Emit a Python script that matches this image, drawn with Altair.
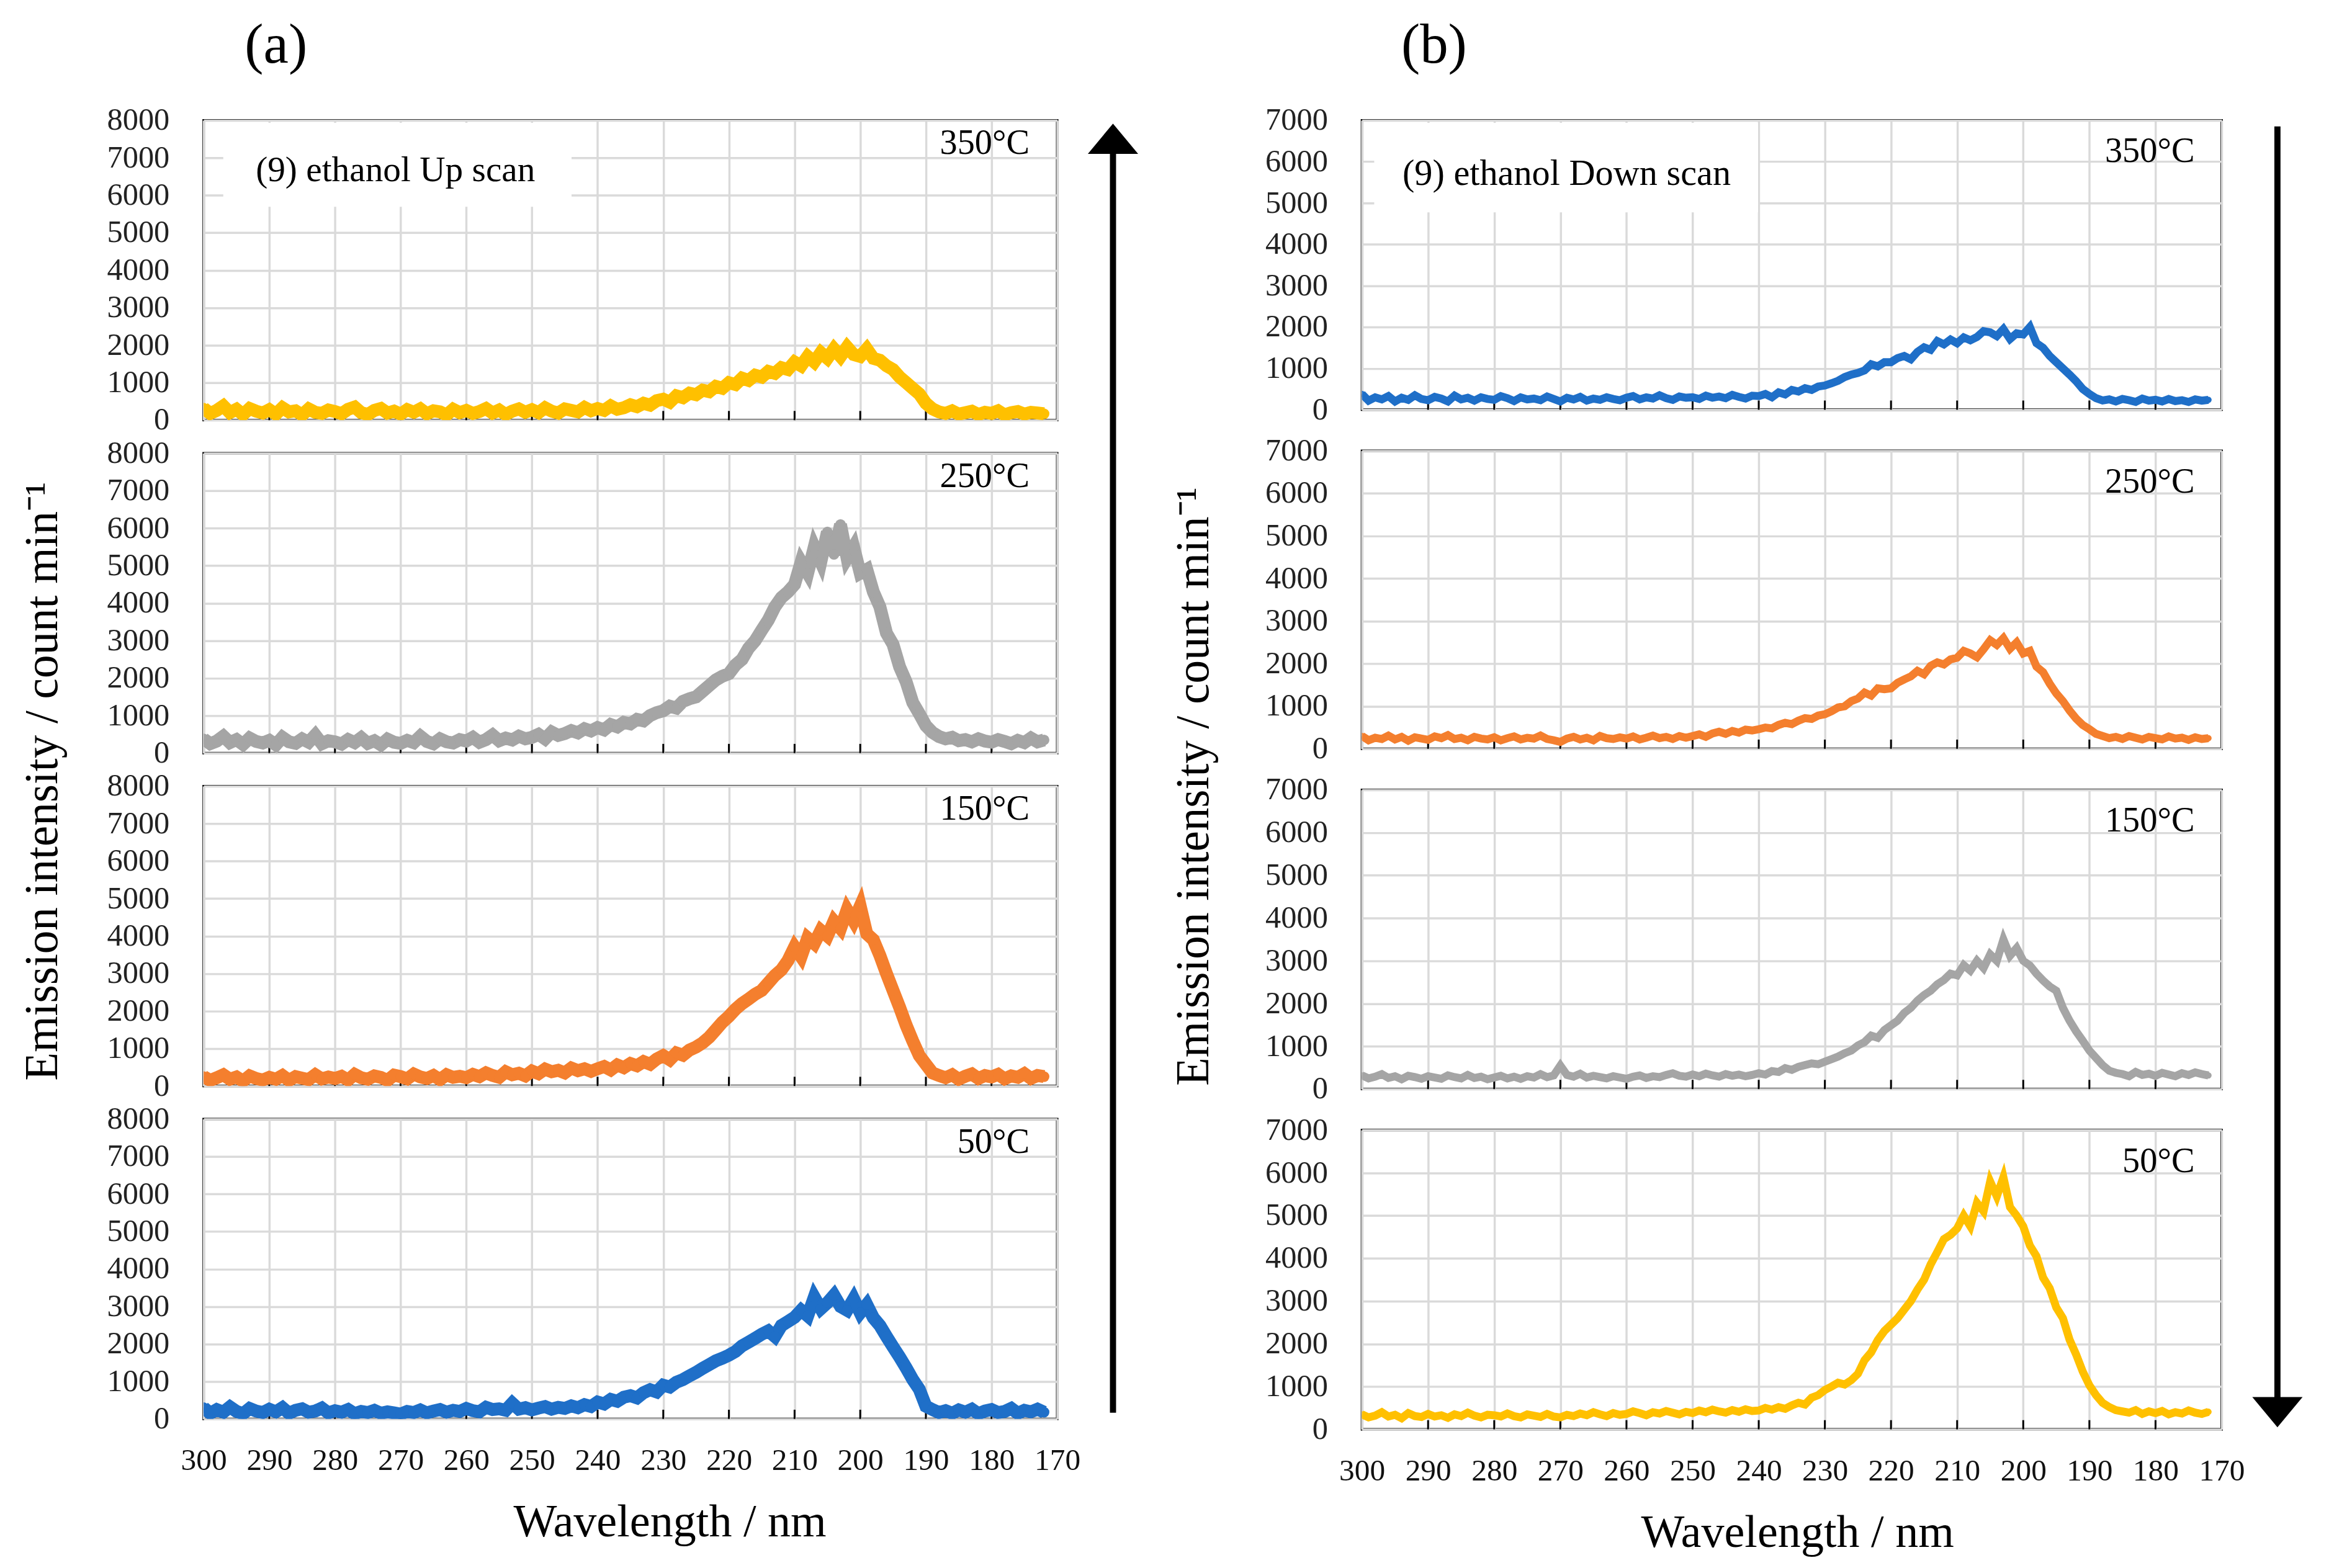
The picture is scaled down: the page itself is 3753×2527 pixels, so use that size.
import altair as alt
import pandas as pd

FONT = "Liberation Serif"

# wavelengths (nm), 300 -> 172, 1 nm step
WL = list(range(300, 171, -1))
XTICKS = list(range(300, 169, -10))
INNER_TICKS = list(range(290, 179, -10))

# ---------------- (a) Up scan ----------------
UP_350 = [320, 180, 260, 380, 200, 290, 150, 310, 240, 190,
          280, 160, 330, 220, 250, 140, 300, 210, 180, 270,
          230, 170, 290, 350, 200, 150, 260, 310, 190, 240,
          160, 280, 210, 300, 170, 250, 220, 140, 290, 200,
          260, 180, 230, 310, 190, 270, 150, 240, 300, 210,
          280, 200, 330, 240, 190, 300, 260, 220, 340, 250,
          310, 260, 380, 290, 330, 410, 360, 450, 400, 520,
          560, 480, 650, 600, 720, 680, 800, 760, 900, 850,
          1000, 950, 1120, 1060, 1200, 1150, 1300, 1250, 1400, 1350,
          1550, 1450, 1700, 1550, 1800, 1650, 1900, 1700, 1950, 1750,
          1700, 1900, 1650, 1600, 1450, 1350, 1150, 1000, 850, 700,
          450, 300, 220, 180, 250, 160, 200, 240, 150, 210,
          180, 250, 140, 200, 230, 160, 210, 190, 170]

UP_250 = [380, 250, 320, 450, 280, 360, 230, 400, 310, 270,
          340, 220, 420, 300, 260, 380, 290, 480, 250, 330,
          300, 240, 360, 280, 410, 260, 330, 220, 370, 290,
          260, 340, 280, 450, 310, 250, 380, 300, 270, 360,
          320, 420, 290, 360, 480, 330, 400, 350, 450, 380,
          420, 500, 380, 560, 470, 520, 600, 540, 650, 590,
          680, 620, 760, 700, 820, 780, 900, 860, 1000, 1080,
          1130, 1250, 1200, 1380, 1450, 1500, 1650, 1800, 1950, 2050,
          2120, 2350, 2500, 2800, 3000, 3280, 3550, 3900, 4150, 4300,
          4500, 5100, 4800, 5500, 5100, 5900, 5300, 6100, 5200, 5500,
          4800, 4900, 4300, 3900, 3200, 2900, 2300, 1900, 1350, 1050,
          730, 550, 440, 380, 420, 330, 360, 300, 380, 320,
          290, 360, 310, 250, 340, 280, 400, 300, 350]

UP_150 = [250, 150, 220, 300, 180, 240, 130, 270, 200, 160,
          230, 180, 280, 150, 250, 210, 170, 300, 190, 240,
          200, 260, 160, 310, 220, 180, 270, 230, 150, 290,
          250, 190, 320, 240, 200, 280, 170, 300, 230, 260,
          220, 310, 250, 350, 280, 230, 380, 300, 340, 270,
          400, 330, 450, 380, 420, 350, 480, 410, 460, 390,
          460, 520, 430, 560, 490, 600, 540, 650, 580, 720,
          810, 700, 880, 820, 960, 1040, 1150, 1300, 1500, 1700,
          1860, 2050, 2200, 2320, 2450, 2550, 2750, 2950, 3100, 3350,
          3710, 3450, 3950, 3800, 4150, 4000, 4400, 4200, 4700, 4400,
          4800, 4060, 3900, 3480, 3000, 2550, 2100, 1620, 1200, 810,
          580, 350, 280, 220, 300, 180, 260, 320, 200, 280,
          240, 310, 190, 270, 230, 330, 200, 280, 250]

UP_50 = [300, 150, 250, 180, 320, 200, 140, 280, 210, 170,
         260, 190, 300, 150, 230, 270, 180, 210, 290, 160,
         220, 180, 250, 140, 200, 170, 230, 150, 190, 160,
         130, 200, 170, 240, 160, 210, 250, 180, 230, 200,
         280, 220, 190, 310, 250, 270, 230, 420, 260, 300,
         240, 290, 330, 260, 310, 280, 350, 300, 380, 330,
         450, 400, 520, 470, 580, 620, 560, 700, 780, 720,
         900, 850, 980, 1050, 1150, 1240, 1350, 1450, 1550, 1620,
         1700, 1800, 1950, 2050, 2150, 2260, 2350, 2200, 2490, 2600,
         2710, 2900, 2750, 3250, 2940, 3100, 3300, 3000, 2900, 3200,
         2830, 3050, 2700, 2490, 2200, 1920, 1650, 1360, 1050, 790,
         340, 250, 170, 220, 150, 240, 180, 260, 140, 210,
         250, 170, 200, 280, 150, 230, 190, 260, 180]

# ---------------- (b) Down scan ----------------
DN_350 = [380, 220, 300, 250, 330, 200, 290, 240, 350, 260,
          230, 310, 270, 200, 340, 250, 290, 220, 300, 260,
          240, 330, 280, 210, 300, 250, 270, 230, 320, 260,
          200, 290, 250, 310, 220, 270, 240, 300, 260, 230,
          290, 330, 250, 300, 270, 350, 280, 240, 320, 290,
          300, 260, 340, 290, 320, 280, 360, 310, 270, 340,
          330, 380, 300, 420, 370, 480, 440, 520, 480, 560,
          585, 640, 700, 790, 850, 890, 950, 1100, 1050, 1150,
          1150, 1250, 1300, 1220, 1400, 1510, 1450, 1660, 1580, 1700,
          1610, 1750, 1680, 1760, 1900, 1870, 1780, 1950, 1710, 1850,
          1820, 2000, 1610, 1500, 1300, 1150, 1000, 850, 690, 500,
          380, 280, 225, 250, 200, 260, 230, 190, 270, 220,
          240, 200, 260, 210, 230, 190, 250, 220, 240]

DN_250 = [300, 200, 260, 230, 310, 220, 280, 190, 270, 240,
          210, 290, 250, 320, 230, 260, 200, 280, 240, 220,
          270, 200, 250, 290, 220, 260, 240, 310, 230, 200,
          160, 240, 280, 220, 260, 200, 300, 250, 230, 270,
          240, 290, 220, 260, 310, 250, 280, 230, 300, 260,
          300, 340, 280, 360, 400, 350, 420, 380, 450, 430,
          460, 500, 480, 560, 610, 580, 660, 720, 700, 780,
          810, 880, 970, 1000, 1120, 1180, 1320, 1250, 1420, 1400,
          1420, 1550, 1630, 1700, 1830, 1750, 1950, 2030, 1980, 2100,
          2140, 2300, 2240, 2150, 2340, 2550, 2440, 2600, 2350, 2500,
          2240, 2300, 1930, 1800, 1530, 1300, 1120, 900, 710, 560,
          460, 350, 300, 250, 280, 230, 300, 260, 220, 280,
          250, 220, 290, 240, 260, 210, 270, 230, 250]

DN_150 = [320, 250, 290, 350, 260, 300, 230, 310, 280, 240,
          300, 270, 240, 320, 280, 250, 330, 260, 290, 230,
          270, 310, 250, 290, 240, 300, 270, 350, 280, 320,
          550, 330, 290, 360, 270, 310, 280, 250, 300, 270,
          240, 290, 320, 260, 300, 280, 330, 370, 310, 290,
          340, 300, 360, 320, 290, 350, 310, 340, 300, 330,
          370, 340, 420, 400, 490, 450, 520, 560, 600, 580,
          640, 700, 760, 840, 900, 1020, 1100, 1250, 1200, 1380,
          1490, 1600, 1780, 1900, 2070, 2200, 2300, 2450, 2550, 2700,
          2660, 2900, 2770, 3000, 2830, 3150, 3000, 3500, 3120, 3300,
          3000, 2890, 2700, 2540, 2400, 2300, 1900, 1600, 1350, 1130,
          900, 730, 560, 430, 380, 350, 300, 400, 330, 360,
          310, 380, 340, 300, 370, 330, 390, 350, 320]

DN_50 = [350, 280, 320, 400, 300, 340, 260, 380, 310, 290,
         360, 300, 330, 270, 350, 310, 390, 320, 280, 340,
         330, 300, 370, 310, 280, 350, 320, 290, 360, 300,
         280, 340, 310, 370, 330, 400, 350, 310, 380, 340,
         360, 420, 380, 330, 400, 370, 430, 390, 350, 410,
         380, 440, 400, 460, 420, 390, 450, 410, 470, 430,
         440, 500, 460, 520, 480, 560, 620, 580, 740, 800,
         920, 1000, 1090, 1050, 1150, 1300, 1620, 1800, 2090, 2300,
         2450, 2600, 2800, 3000, 3270, 3500, 3860, 4150, 4450, 4550,
         4700, 5000, 4750, 5300, 5100, 5800, 5450, 5900, 5200, 5000,
         4750, 4300, 4050, 3550, 3300, 2850, 2600, 2100, 1750, 1350,
         1030, 800, 620, 520, 450, 420, 390, 450, 360, 420,
         380, 430, 350, 400, 370, 440, 390, 360, 410]

TEMPS = ["350°C", "250°C", "150°C", "50°C"]
YELLOW, GRAY, ORANGE, BLUE = "#FFC000", "#A5A5A5", "#F47F2E", "#1F6FC8"
YTITLE = "Emission intensity / count min⁻¹"
XTITLE = "Wavelength / nm"


def panel(vals, color, temp, ymax, w, h, bottom, pt_size, lw, temp_dx, temp_dy,
          title_x, note=None, head=None):
    df = pd.DataFrame({"wl": WL, "v": vals})
    xscale = alt.Scale(domain=[170, 300], reverse=True, nice=False, zero=False)
    xaxis = alt.Axis(values=XTICKS, labels=bottom, ticks=False, domain=False,
                     grid=True, gridColor="#DADADA", gridWidth=3.5, format="d",
                     labelOverlap=False, labelFlush=False, labelBound=False,
                     labelFont=FONT, labelFontSize=50, labelColor="#111",
                     labelPadding=43, titleFont=FONT, titleFontSize=75,
                     titleFontWeight="normal", titleColor="black", titlePadding=39,
                     titleX=title_x)
    yaxis = alt.Axis(values=list(range(0, ymax + 1, 1000)), ticks=False, domain=False,
                     grid=True, gridColor="#DADADA", gridWidth=3.5, format="d",
                     labelOverlap=False, labelFlush=False, labelBound=False,
                     labelFont=FONT, labelFontSize=51, labelColor="#222",
                     labelPadding=56)
    if bottom:
        x = alt.X("wl:Q", scale=xscale, axis=xaxis, title=XTITLE)
    else:
        x = alt.X("wl:Q", scale=xscale, axis=xaxis, title=None)
    y = alt.Y("v:Q", scale=alt.Scale(domain=[0, ymax], nice=False), axis=yaxis, title=None)

    ticks = alt.Chart(pd.DataFrame({"wl": INNER_TICKS})).mark_rule(
        color="black", strokeWidth=3).encode(x=x, y=alt.value(h), y2=alt.value(h - 15))
    line = alt.Chart(df).mark_line(color=color, strokeWidth=lw, clip=True).encode(x=x, y=y)
    pts = alt.Chart(df).mark_circle(color=color, size=pt_size, opacity=1, clip=True).encode(x=x, y=y)
    one = pd.DataFrame({"s": [temp]})
    ttxt = alt.Chart(one).mark_text(align="right", baseline="middle", font=FONT,
                                    fontSize=57, color="black").encode(
        text="s:N", x=alt.value(w - temp_dx), y=alt.value(temp_dy))
    layers = [ticks, line, pts, ttxt]
    if note is not None:
        text, bx1, bx2, by2, tx, ty, fs = note
        nd = pd.DataFrame({"s": [text]})
        box = alt.Chart(nd).mark_rect(color="white").encode(
            x=alt.value(bx1), x2=alt.value(bx2), y=alt.value(4), y2=alt.value(by2))
        ntxt = alt.Chart(nd).mark_text(align="left", baseline="middle", font=FONT,
                                       fontSize=fs, color="black").encode(
            text="s:N", x=alt.value(tx), y=alt.value(ty))
        layers += [box, ntxt]
    ch = alt.layer(*layers).properties(
        width=w, height=h, view=alt.ViewBackground(stroke="black", strokeWidth=4))
    if head is not None:
        label, dx = head
        ch = ch.properties(title=alt.TitleParams(
            label, anchor="start", frame="group", dx=dx, offset=49, font=FONT,
            fontSize=92, fontWeight="normal", color="black"))
    return ch


LW = 1392
LHS = [489, 489, 489, 489]
RW = 1402
RHS = [472, 486, 488, 488]

left_vals = [UP_350, UP_250, UP_150, UP_50]
left_cols = [YELLOW, GRAY, ORANGE, BLUE]
left_panels = []
for i in range(4):
    left_panels.append(panel(
        left_vals[i], left_cols[i], TEMPS[i], 8000, LW, LHS[i], i == 3, 300, 21, 45, 38,
        760,
        note=("(9) ethanol Up scan", 32, 600, 141, 85, 82, 58) if i == 0 else None,
        head=("(a)", 67) if i == 0 else None))

right_vals = [DN_350, DN_250, DN_150, DN_50]
right_cols = [BLUE, ORANGE, GRAY, YELLOW]
right_panels = []
for i in range(4):
    right_panels.append(panel(
        right_vals[i], right_cols[i], TEMPS[i], 7000, RW, RHS[i], i == 3, 110, 13, 44, 51,
        710,
        note=("(9) ethanol Down scan", 20, 646, 150, 66, 87, 59) if i == 0 else None,
        head=("(b)", 64) if i == 0 else None))


def ytitle(offset):
    return alt.TitleParams(YTITLE, orient="left", anchor="middle", font=FONT,
                           fontSize=76, fontWeight="normal", color="black",
                           offset=offset)


left_col = alt.vconcat(*left_panels, spacing=54, bounds="flush").properties(
    title=ytitle(63))
right_col = alt.vconcat(*right_panels, spacing=67, bounds="flush").properties(
    title=ytitle(75))

one = pd.DataFrame({"a": [0]})
UP_HEAD = "M0,-0.6L1,0.6L-1,0.6Z"
DOWN_HEAD = "M0,0.6L1,-0.6L-1,-0.6Z"

# arrow charts: their origin aligns with the top of the first panels (page y ~190)
AT = 190
arrow_a = alt.layer(
    alt.Chart(one).mark_rule(color="black", strokeWidth=10).encode(
        x=alt.value(25), y=alt.value(2298 - AT), y2=alt.value(235 - AT)),
    alt.Chart(one).mark_point(shape=UP_HEAD, filled=True, color="black", opacity=1,
                              size=6724).encode(x=alt.value(25), y=alt.value(220 - AT)),
).properties(width=108, height=2140, view=alt.ViewBackground(strokeWidth=0))

arrow_b = alt.layer(
    alt.Chart(one).mark_rule(color="black", strokeWidth=10).encode(
        x=alt.value(9), y=alt.value(200 - AT), y2=alt.value(2285 - AT)),
    alt.Chart(one).mark_point(shape=DOWN_HEAD, filled=True, color="black", opacity=1,
                              size=6724).encode(x=alt.value(9), y=alt.value(2297 - AT)),
).properties(width=80, height=2140, view=alt.ViewBackground(strokeWidth=0))

chart = alt.hconcat(left_col, arrow_a, right_col, arrow_b, spacing=10).properties(
    padding={"left": 23, "top": 3, "right": 5, "bottom": 5},
    background="white",
).configure(font=FONT).configure_view(strokeWidth=0)

chart.save("out.html", embed_options={"renderer": "svg", "actions": False})
